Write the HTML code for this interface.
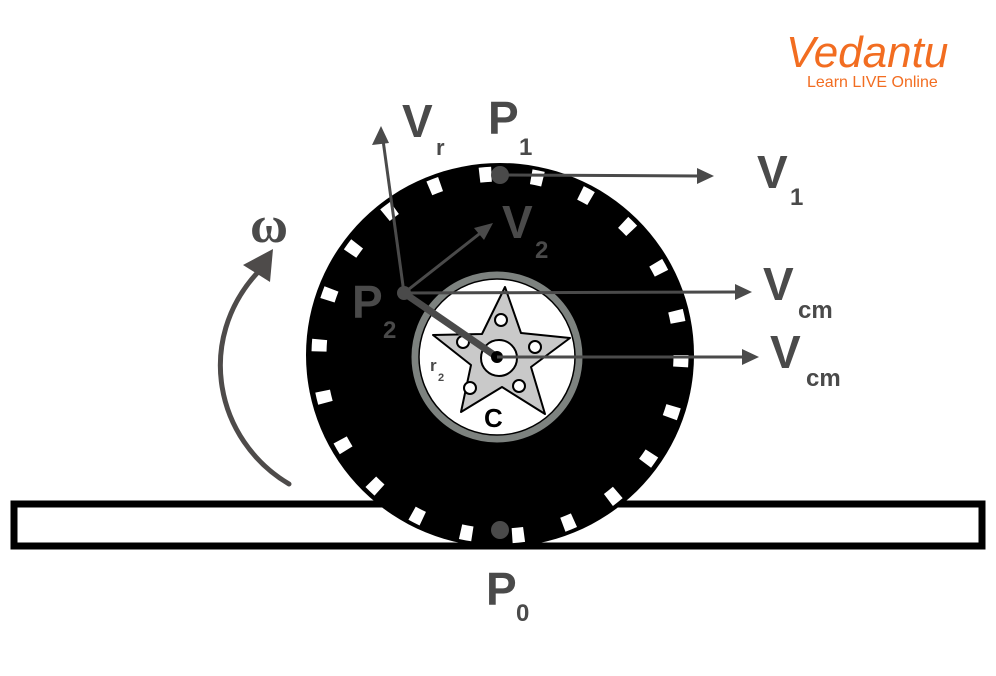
<!DOCTYPE html>
<html><head><meta charset="utf-8"><style>
html,body{margin:0;padding:0;background:#fff;width:996px;height:676px;overflow:hidden}
text{font-family:"Liberation Sans",sans-serif;font-weight:bold;fill:#4a4a4a}
</style></head><body>
<svg width="996" height="676" viewBox="0 0 996 676" xmlns="http://www.w3.org/2000/svg">
<!-- ground -->
<rect x="14" y="504" width="968" height="42" fill="#fff" stroke="#000" stroke-width="7"/>
<!-- tire -->
<ellipse cx="500" cy="355" rx="194" ry="192" fill="#000"/>
<circle cx="500" cy="355" r="181" fill="none" stroke="#fff" stroke-width="15" stroke-dasharray="12 40"/>
<ellipse cx="500" cy="355" rx="170" ry="168" fill="#000"/>
<!-- hub -->
<circle cx="497" cy="357" r="82" fill="#fff" stroke="#7d827f" stroke-width="7"/>
<circle cx="497" cy="357" r="78" fill="none" stroke="#000" stroke-width="1.5"/>
<polygon points="505,287 521,333 570,338 531,367 545,414 502,387 461,412 471,365 433,335 482,334" fill="#c9c9c9" stroke="#000" stroke-width="2" stroke-linejoin="round"/>
<circle cx="499" cy="358" r="18" fill="#fff" stroke="#000" stroke-width="2"/>
<circle cx="501" cy="320" r="6" fill="#fff" stroke="#000" stroke-width="2"/>
<circle cx="535" cy="347" r="6" fill="#fff" stroke="#000" stroke-width="2"/>
<circle cx="519" cy="386" r="6" fill="#fff" stroke="#000" stroke-width="2"/>
<circle cx="470" cy="388" r="6" fill="#fff" stroke="#000" stroke-width="2"/>
<circle cx="463" cy="342" r="6" fill="#fff" stroke="#000" stroke-width="2"/>
<!-- dots -->
<circle cx="500" cy="175" r="9" fill="#4a4a4a"/>
<circle cx="500" cy="530" r="9" fill="#4a4a4a"/>
<!-- radius line -->
<line x1="404" y1="293" x2="497" y2="357" stroke="#4a4a4a" stroke-width="7"/>
<circle cx="404" cy="293" r="7" fill="#4a4a4a"/>
<circle cx="497" cy="357" r="6" fill="#000"/>
<!-- arrows -->
<g stroke="#4a4a4a" stroke-width="3" fill="none">
<line x1="500" y1="175" x2="700" y2="176"/>
<line x1="404" y1="293" x2="383" y2="140"/>
<line x1="404" y1="293" x2="483" y2="231"/>
<line x1="404" y1="293" x2="738" y2="292"/>
<line x1="497" y1="357" x2="745" y2="357"/>
</g>
<g fill="#4a4a4a">
<polygon points="714,176 697,168 697,184"/>
<polygon points="381,126 372,145 389,143"/>
<polygon points="493,223 474,228 484,240"/>
<polygon points="752,292 735,284 735,300"/>
<polygon points="759,357 742,349 742,365"/>
</g>
<!-- omega arrow -->
<path d="M289,484 C215,440 195,340 258,272" stroke="#4e4b4a" stroke-width="5" fill="none" stroke-linecap="round"/>
<polygon points="273,249 243,265 270,282" fill="#4e4b4a"/>
<text x="250" y="242" style="font-family:'Liberation Serif',serif;font-size:52px" fill="#4e4b4a">ω</text>
<!-- labels -->
<text x="402" y="137" font-size="46">V</text><text x="436" y="155" font-size="22">r</text>
<text x="488" y="134" font-size="46">P</text><text x="519" y="155" font-size="24">1</text>
<text x="757" y="188" font-size="46">V</text><text x="790" y="205" font-size="24">1</text>
<text x="502" y="238" font-size="46">V</text><text x="535" y="258" font-size="24">2</text>
<text x="352" y="318" font-size="46">P</text><text x="383" y="338" font-size="24">2</text>
<text x="763" y="300" font-size="46">V</text><text x="798" y="318" font-size="24">cm</text>
<text x="770" y="368" font-size="46">V</text><text x="806" y="386" font-size="24">cm</text>
<text x="486" y="605" font-size="46">P</text><text x="516" y="621" font-size="24">0</text>
<text x="484" y="427" font-size="26" style="fill:#000">C</text>
<text x="430" y="371" font-size="17">r</text><text x="438" y="381" font-size="11">2</text>
<!-- logo -->
<text x="786" y="67" style="font-size:44px;fill:#f26d21;font-style:italic;font-weight:normal">Vedantu</text>
<text x="807" y="87" style="font-size:16px;fill:#f26d21;font-weight:normal">Learn LIVE Online</text>
</svg>
</body></html>
